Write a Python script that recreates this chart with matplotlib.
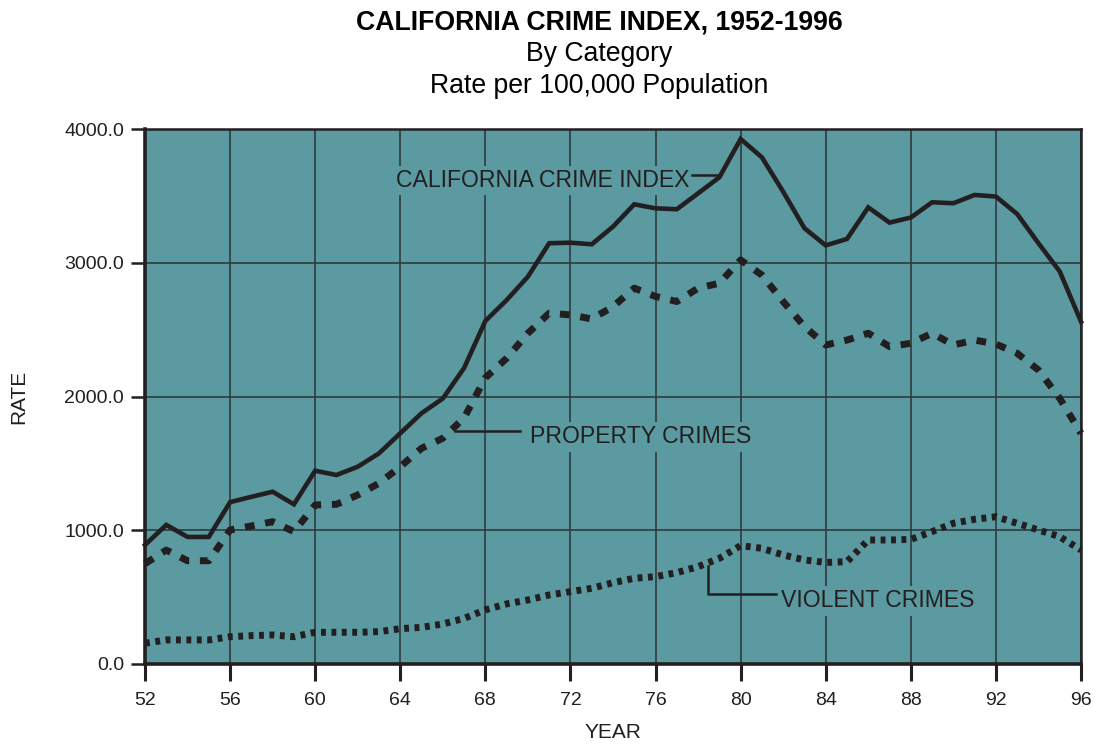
import matplotlib
matplotlib.use("Agg")
import matplotlib.pyplot as plt
from matplotlib.ticker import FormatStrFormatter

plt.rcParams['font.family'] = ['Liberation Sans', 'DejaVu Sans']

years = list(range(52, 97))
total = [890, 1040, 950, 950, 1210, 1250, 1288, 1194, 1445, 1413, 1475, 1575,
         1725, 1875, 1985, 2213, 2565, 2721, 2896, 3146, 3150, 3138, 3270, 3437,
         3407, 3400, 3519, 3639, 3925, 3788, 3531, 3258, 3130, 3178, 3414, 3300,
         3338, 3452, 3445, 3507, 3495, 3364, 3146, 2935, 2560]
property_ = [750, 852, 772, 772, 1002, 1032, 1064, 990, 1189, 1194, 1264, 1351,
             1475, 1613, 1688, 1840, 2140, 2286, 2473, 2623, 2610, 2580, 2672, 2810,
             2748, 2710, 2810, 2847, 3021, 2908, 2710, 2523, 2385, 2422, 2473, 2373,
             2398, 2473, 2385, 2422, 2392, 2323, 2198, 1986, 1725]
violent = [155, 180, 180, 180, 204, 212, 217, 204, 237, 237, 237, 242,
           264, 274, 299, 341, 405, 449, 479, 516, 541, 566, 608, 641,
           653, 683, 728, 790, 885, 865, 815, 778, 759, 765, 927, 927,
           932, 990, 1052, 1082, 1101, 1052, 1002, 952, 852]
x_ticks = list(range(52, 97, 4))
y_ticks = [0, 1000, 2000, 3000, 4000]

teal = '#5A9AA0'
ink = '#231F20'
grid_c = '#2E3A3C'

fig = plt.figure(figsize=(10.99, 7.45), dpi=100)
ax = fig.add_axes([145/1099, 81/745, 936/1099, 535/745])
ax.set_facecolor(teal)
ax.set_xlim(52, 96)
ax.set_ylim(0, 4000)
ax.set_xticks(x_ticks)
ax.set_yticks(y_ticks)
ax.yaxis.set_major_formatter(FormatStrFormatter('%.1f'))
ax.grid(True, color=grid_c, linewidth=1.2, zorder=1)
ax.set_axisbelow(True)

ax.plot(years, total, color=ink, lw=3.3, solid_joinstyle='miter', zorder=5, clip_on=False)
ax.plot(years, property_, color=ink, lw=5.0, dashes=(1.4, 1.55),
        dash_capstyle='butt', zorder=5, clip_on=False)
ax.plot(years, violent, color=ink, lw=5.0, dashes=(0.7, 0.8),
        dash_capstyle='butt', zorder=5, clip_on=False)

for side in ['left', 'bottom']:
    ax.spines[side].set_linewidth(2.6)
for side in ['top', 'right']:
    ax.spines[side].set_linewidth(1.8)
for s in ax.spines.values():
    s.set_color(ink)
    s.set_zorder(6)

ax.tick_params(axis='x', direction='out', length=12, width=2.2, pad=8,
               labelsize=14, colors=ink)
ax.tick_params(axis='y', direction='out', length=10, width=1.8, pad=5,
               labelsize=14, colors=ink)

ax.set_xlabel('YEAR', fontsize=15, color=ink, labelpad=10)
ax.set_ylabel('RATE', fontsize=15, color=ink, labelpad=26)

cx = 599 / 1099
fig.text(cx, 1 - 22/745, 'CALIFORNIA CRIME INDEX, 1952-1996', ha='center', va='center',
         fontsize=19.2, fontweight='bold', color='black')
fig.text(cx, 1 - 54/745, 'By Category', ha='center', va='center', fontsize=19.2, color='black')
fig.text(cx, 1 - 86/745, 'Rate per 100,000 Population', ha='center', va='center',
         fontsize=19.2, color='black')

box = dict(facecolor=teal, edgecolor='none', pad=2.5)
ax.text(77.6, 3615, 'CALIFORNIA CRIME INDEX', ha='right', va='center', fontsize=16.6,
        color=ink, bbox=box, zorder=4)
ax.plot([77.7, 78.95], [3656, 3656], color=ink, lw=1.8, zorder=4)

ax.text(70.1, 1698, 'PROPERTY CRIMES', ha='left', va='center', fontsize=16.6,
        color=ink, bbox=box, zorder=4)
ax.plot([66.57, 69.63], [1742, 1742], color=ink, lw=1.8, zorder=4)

ax.text(81.9, 472, 'VIOLENT CRIMES', ha='left', va='center', fontsize=16.6,
        color=ink, bbox=box, zorder=4)
ax.plot([78.47, 78.47, 81.67], [735, 523, 523], color=ink, lw=1.8, zorder=4)

fig.savefig('out.png', dpi=100)
